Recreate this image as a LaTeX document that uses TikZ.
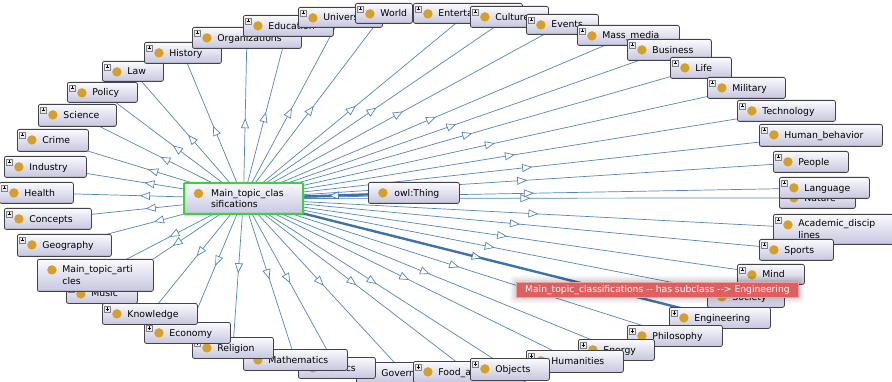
\documentclass[tikz,border=0pt]{standalone}
\usepackage{fontspec}
\setmainfont{DejaVu Sans}
\usetikzlibrary{arrows.meta,decorations.markings,backgrounds}

\definecolor{boxtop}{RGB}{250,250,253}
\definecolor{boxbot}{RGB}{198,198,224}
\definecolor{boxedge}{RGB}{66,66,74}
\definecolor{gold}{RGB}{214,160,38}
\definecolor{linkblue}{RGB}{80,135,188}
\definecolor{linkdark}{RGB}{62,115,168}
\definecolor{selgreen}{RGB}{60,210,60}
\definecolor{tipfill}{RGB}{221,96,96}
\definecolor{tipedge}{RGB}{238,160,160}

% left gap before a class label (room for the icons)
\newlength\clsindent
\setlength\clsindent{25pt}
\newcommand\ind{\hspace*{\clsindent}}

\tikzset{
  ppicon/.style={path picture={
    \fill[gold] ([xshift=14.5pt,yshift=-10.5pt]path picture bounding box.north west) circle (4.7pt);}},
  ppiconplus/.style={path picture={
    \fill[gold] ([xshift=14.5pt,yshift=-10.5pt]path picture bounding box.north west) circle (4.7pt);
    \draw[sharp corners, draw=gray, fill=gray!15, line width=0.4pt]
      ([xshift=2pt,yshift=-2.5pt]path picture bounding box.north west) rectangle ++(6pt,-6pt);
    \draw[sharp corners, draw=black, line width=0.5pt]
      ([xshift=3.4pt,yshift=-5.5pt]path picture bounding box.north west) -- ++(3.2pt,0pt)
      ([xshift=5pt,yshift=-3.9pt]path picture bounding box.north west) -- ++(0pt,-3.2pt);}},
  classbox/.style={draw=boxedge, line width=0.8pt, rounded corners=2pt,
    top color=boxtop, bottom color=boxbot, anchor=north west,
    inner xsep=0pt, inner ysep=0pt, align=left,
    font=\fontsize{9.3}{11.8}\selectfont},
  oneline/.style={text height=7pt, text depth=0.5pt},
  selected/.style={draw=selgreen, line width=2pt, rounded corners=1pt},
  indent/.code={\setlength\clsindent{#1}},
  subarrow/.style={postaction={decorate, decoration={markings,
    mark=at position 0.5 with {\arrow{Triangle[length=10pt, width=8pt, fill=white, line width=0.7pt]}}}}},
  link/.style={draw=linkblue, line width=0.7pt, subarrow},
  boldlink/.style={draw=linkdark, line width=2.4pt, subarrow},
  tooltip/.style={draw=tipedge, fill=tipfill, text=white, line width=0.8pt,
    font=\fontsize{9.2}{11}\selectfont, anchor=north west, inner sep=0pt,
    text height=7pt, text depth=2pt},
}

% name, x, y, width, height, label
\newcommand\clsnode[7][classbox,ppiconplus,oneline]{%
  \node[#1, minimum width=#5pt, text width=#5pt, minimum height=#6pt] (#2) at (#3,#4)
    {\ind #7};}

\begin{document}
\begin{tikzpicture}[x=1pt,y=-1pt]
\useasboundingbox (0,0) rectangle (892,382);

% classes, drawn in stacking order
\clsnode{crime}{17}{129}{71}{22}{Crime}
\clsnode{industry}{4}{156}{82}{21}{Industry}
\clsnode{health}{-1}{182}{74}{21}{Health}
\clsnode{concepts}{4}{208}{87}{21}{Concepts}
\clsnode{geography}{17}{234}{94}{22}{Geography}
\clsnode{science}{38}{104}{78}{22}{Science}
\clsnode{policy}{67}{82}{70}{20}{Policy}
\clsnode{law}{102}{61}{61}{20}{Law}
\clsnode{history}{144}{42}{77}{21}{History}
\clsnode{organizations}{192}{27}{109}{21}{Organizations}
\clsnode{education}{243}{15}{90}{21}{Education}
\clsnode{universities}{298}{7}{84}{20}{Universities}
\clsnode{world}{355}{3}{57}{20}{World}
\clsnode{entertainment}{413}{3}{109}{20}{Enterta}
\clsnode{culture}{470}{6}{78}{21}{Culture}
\clsnode{events}{526}{14}{72}{20}{Events}
\clsnode{massmedia}{577}{25}{102}{20}{Mass\_media}
\clsnode{business}{627}{39}{84}{21}{Business}
\clsnode{life}{670}{57}{61}{21}{Life}
\clsnode{military}{707}{77}{78}{21}{Military}
\clsnode{technology}{737}{100}{98}{21}{Technology}
\clsnode{humanbehavior}{759}{124}{123}{22}{Human\_behavior}
\clsnode{people}{773}{151}{75}{21}{People}
\clsnode{nature}{779}{187}{76}{21}{Nature}
\clsnode{language}{779}{177}{90}{21}{Language}
\clsnode[classbox,ppiconplus]{academic}{773}{214}{120}{30}{Academic\_discip\\\ind lines}
\clsnode{sports}{759}{239}{74}{21}{Sports}
\clsnode{mind}{737}{264}{67}{20}{Mind}
\clsnode{society}{707}{286}{77}{21}{Society}
\clsnode{engineering}{669}{307}{101}{21}{Engineering}
\clsnode{philosophy}{627}{325}{95}{21}{Philosophy}
\clsnode{energy}{578}{339}{76}{21}{Energy}
\clsnode{humanities}{526}{350}{97}{22}{Humanities}
\clsnode{government}{356}{362}{95}{21}{Government}
\clsnode{food}{413}{361}{112}{21}{Food\_a}
\clsnode{objects}{470}{358}{79}{22}{Objects}
\clsnode{politics}{298}{357}{77}{21}{Politics}
\clsnode{mathematics}{243}{349}{104}{21}{Mathematics}
\clsnode{religion}{192}{337}{81}{21}{Religion}
\clsnode{economy}{144}{322}{86}{21}{Economy}
\clsnode{knowledge}{102}{303}{95}{21}{Knowledge}
\clsnode{music}{66}{283}{71}{20}{Music}
\clsnode[classbox,ppicon]{mainarticles}{37}{259}{116}{32}{Main\_topic\_arti\\\ind cles}
\clsnode[classbox,ppicon,selected,indent=27pt]{mtc}{183}{182}{119}{31}{Main\_topic\_clas\\\ind sifications}
\clsnode[classbox,ppicon,oneline,indent=26pt]{thing}{368}{182}{91}{21}{owl:Thing}

% subclass links, behind the classes
\begin{scope}[on background layer]
  \fill[white] (0,0) rectangle (892,382);
  \foreach \c in {crime,industry,health,concepts,geography,science,policy,law,history,
      organizations,education,universities,world,entertainment,culture,events,massmedia,
      business,life,military,technology,humanbehavior,people,nature,language,academic,
      sports,mind,society,philosophy,energy,humanities,government,food,objects,politics,
      mathematics,religion,economy,knowledge,music,mainarticles}
    \draw[link] (mtc.center) -- (\c.center);
  \draw[boldlink] (thing.center) -- (mtc.center);
  \draw[boldlink] (mtc.center) -- (engineering.center);
\end{scope}

% soft halo and hover label
\foreach \g/\o in {6/0.04,4/0.05,2/0.06}
  \fill[black, opacity=\o, rounded corners=3pt] (516-\g,282-\g) rectangle (798+\g,297+\g);
\node[tooltip, minimum width=282pt, minimum height=15pt] (hover) at (516,282)
  {Main\_topic\_classifications -{}- has subclass -{}-{}> Engineering};
\end{tikzpicture}
\end{document}
